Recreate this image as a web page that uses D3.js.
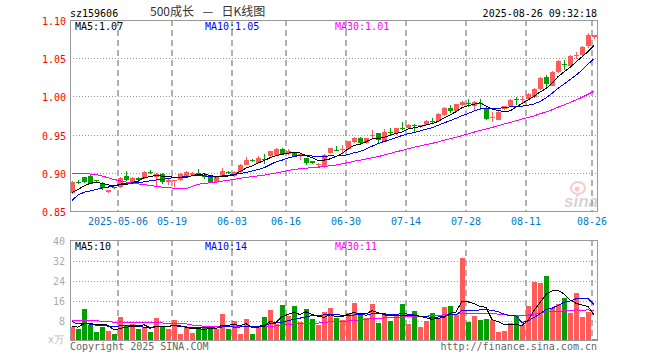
<!DOCTYPE html>
<html>
<head>
<meta charset="utf-8">
<script src="https://cdn.jsdelivr.net/npm/d3@7"></script>
<style>
body { margin: 0; background: #fff; }
text { font-family: "DejaVu Sans Mono", monospace; font-size: 10px; }
</style>
</head>
<body>
<div id="chart"></div>
<script>
var width = 660,
    height = 360;

// trading days shown
var dates = [
  "2025-04-21","2025-04-22","2025-04-23","2025-04-24","2025-04-25","2025-04-28","2025-04-29","2025-04-30",
  "2025-05-06","2025-05-07","2025-05-08","2025-05-09","2025-05-12","2025-05-13","2025-05-14","2025-05-15",
  "2025-05-16","2025-05-19","2025-05-20","2025-05-21","2025-05-22","2025-05-23","2025-05-26","2025-05-27",
  "2025-05-28","2025-05-29","2025-05-30",
  "2025-06-03","2025-06-04","2025-06-05","2025-06-06","2025-06-09","2025-06-10","2025-06-11","2025-06-12",
  "2025-06-13","2025-06-16","2025-06-17","2025-06-18","2025-06-19","2025-06-20","2025-06-23","2025-06-24",
  "2025-06-25","2025-06-26","2025-06-27","2025-06-30",
  "2025-07-01","2025-07-02","2025-07-03","2025-07-04","2025-07-07","2025-07-08","2025-07-09","2025-07-10",
  "2025-07-11","2025-07-14","2025-07-15","2025-07-16","2025-07-17","2025-07-18","2025-07-21","2025-07-22",
  "2025-07-23","2025-07-24","2025-07-25","2025-07-28","2025-07-29","2025-07-30","2025-07-31",
  "2025-08-01","2025-08-04","2025-08-05","2025-08-06","2025-08-07","2025-08-08","2025-08-11","2025-08-12",
  "2025-08-13","2025-08-14","2025-08-15","2025-08-18","2025-08-19","2025-08-20","2025-08-21","2025-08-22",
  "2025-08-25","2025-08-26"
];

var opens = [
  0.873,0.888,0.894,0.896,0.890,0.887,0.875,0.881,0.881,0.896,
  0.888,0.893,0.893,0.901,0.895,0.899,0.888,0.889,0.891,0.895,
  0.897,0.900,0.897,0.894,0.888,0.896,0.901,0.896,0.901,0.911,
  0.917,0.913,0.918,0.922,0.923,0.931,0.924,0.926,0.921,0.919,
  0.915,0.910,0.908,0.925,0.930,0.930,0.931,0.941,0.946,0.939,
  0.949,0.952,0.941,0.954,0.951,0.959,0.959,0.963,0.959,0.963,
  0.968,0.968,0.976,0.985,0.981,0.989,0.992,0.988,0.992,0.985,
  0.972,0.970,0.983,0.987,0.996,0.996,0.997,0.999,1.009,1.026,
  1.014,1.031,1.042,1.040,1.053,1.054,1.065,1.078
];
var highs = [
  0.889,0.890,0.895,0.897,0.891,0.888,0.878,0.882,0.894,0.903,
  0.894,0.894,0.902,0.904,0.900,0.900,0.892,0.891,0.900,0.902,
  0.901,0.905,0.899,0.895,0.894,0.906,0.902,0.902,0.911,0.921,
  0.918,0.922,0.925,0.928,0.933,0.933,0.931,0.927,0.925,0.920,
  0.916,0.913,0.924,0.933,0.935,0.936,0.942,0.947,0.947,0.946,
  0.956,0.952,0.957,0.958,0.959,0.966,0.964,0.964,0.963,0.969,
  0.972,0.978,0.986,0.989,0.990,0.994,0.997,0.994,0.996,0.986,
  0.979,0.981,0.988,0.996,0.999,1.000,1.004,1.011,1.025,1.028,
  1.033,1.047,1.048,1.054,1.058,1.066,1.083,1.081
];
var lows = [
  0.872,0.885,0.887,0.885,0.887,0.878,0.874,0.879,0.880,0.889,
  0.887,0.888,0.892,0.899,0.882,0.885,0.884,0.882,0.889,0.894,
  0.896,0.898,0.892,0.887,0.887,0.895,0.899,0.895,0.900,0.910,
  0.914,0.913,0.912,0.921,0.923,0.923,0.923,0.921,0.917,0.910,
  0.911,0.906,0.906,0.925,0.928,0.925,0.930,0.939,0.939,0.938,
  0.945,0.939,0.940,0.950,0.950,0.956,0.958,0.953,0.958,0.962,
  0.965,0.967,0.975,0.978,0.981,0.988,0.986,0.981,0.982,0.969,
  0.967,0.969,0.982,0.987,0.989,0.991,0.996,0.998,1.008,1.012,
  1.013,1.031,1.035,1.039,1.049,1.053,1.064,1.075
];
var closes = [
  0.888,0.887,0.888,0.886,0.889,0.881,0.878,0.880,0.893,0.891,
  0.893,0.890,0.901,0.900,0.899,0.888,0.891,0.890,0.899,0.901,
  0.900,0.899,0.894,0.888,0.894,0.903,0.900,0.901,0.910,0.917,
  0.916,0.920,0.917,0.928,0.931,0.925,0.928,0.922,0.924,0.913,
  0.912,0.911,0.923,0.932,0.929,0.931,0.941,0.946,0.940,0.945,
  0.950,0.943,0.954,0.953,0.958,0.958,0.963,0.962,0.962,0.968,
  0.967,0.977,0.985,0.981,0.990,0.993,0.991,0.993,0.991,0.970,
  0.973,0.980,0.987,0.995,0.995,0.997,1.003,1.010,1.024,1.017,
  1.032,1.046,1.041,1.053,1.054,1.065,1.080,1.080
];
// volume, 万
var volumes = [
  5.4,4.5,12.5,6.1,3.3,5.3,3.7,2.5,9.3,5.7,
  6.5,4.5,5.4,3.3,8.9,5.7,4.5,8.1,2.5,5.4,
  2.9,5.3,5.3,5.3,4.5,10.5,4.5,7.7,2.5,8.5,
  2.5,5.4,9.3,12.1,6.8,14.1,9.7,13.7,7.5,12.5,
  8.5,6.1,11.5,12.9,9.1,8.1,10.9,14.9,10.3,8.9,
  14.5,7.1,10.5,7.9,10.1,14.5,6.5,11.7,5.3,7.7,
  10.9,8.9,13.3,13.7,10.1,32.9,7.3,9.7,8.1,8.5,
  8.1,3.5,3.9,6.9,9.7,6.1,13.7,23.5,23.1,25.9,
  12.9,14.5,16.9,11.2,19.0,9.3,11.5,0.5
];

// the 29 sessions before the window, only needed for the moving averages
var priorCloses = [
  0.889,0.895,0.912,0.915,0.935,0.945,0.950,0.942,0.944,0.925,
  0.930,0.928,0.932,0.935,0.920,0.908,0.915,0.918,0.912,0.800,
  0.817,0.853,0.869,0.870,0.859,0.8675,0.866,0.868,0.882
];
var priorVolumes = [
  8.5,9.2,7.4,8.0,10.5,9.0,8.2,7.1,6.8,8.8,
  7.5,6.9,7.2,6.5,8.1,7.6,6.9,7.4,8.4,18.0,
  13.5,10.2,8.6,7.8,6.4,6.2,5.6,5.3,6.0
];

var tickDates = ["2025-05-06","2025-05-19","2025-06-03","2025-06-16","2025-06-30",
                 "2025-07-14","2025-07-28","2025-08-11","2025-08-26"];
var tickLabels = ["2025-05-06","05-19","06-03","06-16","06-30","07-14","07-28","08-11","08-26"];
var priceTicks = [0.85, 0.90, 0.95, 1.00, 1.05, 1.10];
var volTicks = [8, 16, 24, 32, 40];

var upColor = "#ff5b5b",
    downColor = "#00a000";
var maColors = {5: "#000000", 10: "#0000ff", 30: "#ff00ff"};

var svg = d3.select("#chart").append("svg")
    .attr("width", width)
    .attr("height", height);

var x = d3.scaleBand().domain(dates).range([69, 597]);
var y = d3.scaleLinear().domain([0.85, 1.10]).range([211, 20]);
var yVol = d3.scaleLinear().domain([0, 40]).range([340.5, 240.5]);

var cx = function(d) { return x(d) + 3; };

// moving averages over prior + visible data
function movingAvg(all, n, offset) {
  return d3.range(offset, all.length).map(function(i) {
    return d3.mean(all.slice(i - n + 1, i + 1));
  });
}
var allCloses = priorCloses.concat(closes),
    allVols = priorVolumes.concat(volumes);
var priceMA = {}, volMA = {};
[5, 10, 30].forEach(function(n) {
  priceMA[n] = movingAvg(allCloses, n, priorCloses.length);
  volMA[n] = movingAvg(allVols, n, priorVolumes.length);
});

// ---- grids ----
var grid = svg.append("g");
[[20, 211], [240, 341]].forEach(function(r) {
  grid.selectAll(null).data(tickDates).enter().append("line")
    .attr("x1", function(d) { return x(d) + 1; })
    .attr("x2", function(d) { return x(d) + 1; })
    .attr("y1", r[0]).attr("y2", r[1])
    .attr("stroke", "#b0b0b0")
    .attr("stroke-width", 2)
    .attr("stroke-dasharray", "6,4");
});
grid.selectAll(null).data([0.90, 0.95, 1.00, 1.05]).enter().append("line")
  .attr("x1", 70).attr("x2", 597)
  .attr("y1", function(d) { return Math.round(y(d)) + 0.5; })
  .attr("y2", function(d) { return Math.round(y(d)) + 0.5; })
  .attr("stroke", "#999").attr("stroke-dasharray", "1,2");
grid.selectAll(null).data([8, 16, 24, 32]).enter().append("line")
  .attr("x1", 70).attr("x2", 597)
  .attr("y1", function(d) { return Math.round(yVol(d)) + 0.5; })
  .attr("y2", function(d) { return Math.round(yVol(d)) + 0.5; })
  .attr("stroke", "#999").attr("stroke-dasharray", "1,2");

// ---- candles ----
var idx = d3.range(dates.length);
var isUp = function(i) { return closes[i] >= opens[i]; };
var candles = svg.append("g").attr("shape-rendering", "crispEdges");
candles.selectAll("line").data(idx).enter().append("line")
  .attr("x1", function(i) { return x(dates[i]) + 3.5; })
  .attr("x2", function(i) { return x(dates[i]) + 3.5; })
  .attr("y1", function(i) { return y(highs[i]); })
  .attr("y2", function(i) { return y(lows[i]); })
  .attr("stroke", function(i) { return isUp(i) ? upColor : downColor; });
candles.selectAll("rect").data(idx).enter().append("rect")
  .attr("x", function(i) { return x(dates[i]) + 1; })
  .attr("width", 5)
  .attr("y", function(i) { return Math.round(y(Math.max(opens[i], closes[i]))); })
  .attr("height", function(i) { return Math.max(1, Math.round(Math.abs(y(opens[i]) - y(closes[i])))); })
  .attr("fill", function(i) { return isUp(i) ? upColor : downColor; });

// ---- volume bars ----
svg.append("g").attr("shape-rendering", "crispEdges")
  .selectAll("rect").data(idx).enter().append("rect")
  .attr("x", function(i) { return x(dates[i]) + 1; })
  .attr("width", 5)
  .attr("y", function(i) { return yVol(volumes[i]); })
  .attr("height", function(i) { return yVol(0) - yVol(volumes[i]); })
  .attr("fill", function(i) { return isUp(i) ? upColor : downColor; });

// ---- MA lines ----
svg.append("clipPath").attr("id", "volclip")
  .append("rect").attr("x", 70).attr("y", 241).attr("width", 527).attr("height", 100);
[30, 10, 5].forEach(function(n) {
  var priceLine = d3.line()
    .x(function(v, i) { return cx(dates[i]); })
    .y(function(v) { return y(v); });
  svg.append("path")
    .attr("d", priceLine(priceMA[n]))
    .attr("fill", "none")
    .attr("stroke", maColors[n])
    .attr("stroke-width", 1)
    .attr("shape-rendering", "crispEdges");
  var volLine = d3.line()
    .x(function(v, i) { return cx(dates[i]); })
    .y(function(v) { return yVol(v); });
  svg.append("path")
    .attr("d", volLine(volMA[n]))
    .attr("clip-path", "url(#volclip)")
    .attr("fill", "none")
    .attr("stroke", maColors[n])
    .attr("stroke-width", 1)
    .attr("shape-rendering", "crispEdges");
});

// ---- frames ----
svg.append("rect").attr("x", 70.5).attr("y", 20.5).attr("width", 527).attr("height", 191)
  .attr("fill", "none").attr("stroke", "#999");
svg.append("rect").attr("x", 70.5).attr("y", 240.5).attr("width", 527).attr("height", 100)
  .attr("fill", "none").attr("stroke", "#999");

// ---- axes ----
var yAxis = svg.append("g").attr("transform", "translate(70,0)")
  .call(d3.axisLeft(y).tickValues(priceTicks).tickFormat(d3.format(".2f")).tickSize(0).tickPadding(4));
yAxis.select(".domain").remove();
yAxis.selectAll("text").attr("fill", "#f00").attr("dy", "0.45em")
  .style("font-family", "DejaVu Sans Mono").style("font-size", "10px");

var vAxis = svg.append("g").attr("transform", "translate(70,0)")
  .call(d3.axisLeft(yVol).tickValues(volTicks).tickSize(0).tickPadding(5));
vAxis.select(".domain").remove();
vAxis.selectAll("text").attr("fill", "#aaa").attr("dy", "0.4em")
  .style("font-family", "DejaVu Sans Mono").style("font-size", "10px");

var xAxis = svg.append("g").attr("transform", "translate(-2,211)")
  .call(d3.axisBottom(x).tickValues(tickDates)
    .tickFormat(function(d, i) { return tickLabels[i]; })
    .tickSize(0).tickPadding(7));
xAxis.select(".domain").remove();
xAxis.selectAll("text").attr("fill", "#007acc")
  .style("font-family", "DejaVu Sans Mono").style("font-size", "10px");

// ---- texts ----
svg.append("text").attr("x", 70).attr("y", 17).text("sz159606");
svg.append("text").attr("x", 150).attr("y", 16)
  .style("font-family", "Noto Sans CJK SC").style("font-size", "12px")
  .style("white-space", "pre").attr("fill", "#333")
  .text("500成长\u2002\u2009—\u2002\u2009日K线图");
svg.append("text").attr("x", 597).attr("y", 17).attr("text-anchor", "end")
  .text("2025-08-26 09:32:18");

var fmt2 = d3.format(".2f");
var last = dates.length - 1;
[5, 10, 30].forEach(function(n, k) {
  svg.append("text").attr("x", 75 + k * 130).attr("y", 29.5).attr("fill", maColors[n])
    .text("MA" + n + ":" + fmt2(priceMA[n][last]));
  svg.append("text").attr("x", 75 + k * 130).attr("y", 249.5).attr("fill", maColors[n])
    .text("MA" + n + ":" + Math.floor(volMA[n][last]));
});

svg.append("text").attr("x", 64).attr("y", 343).attr("text-anchor", "end")
  .attr("fill", "#bbb").text("x万");
svg.append("text").attr("x", 70).attr("y", 350).attr("fill", "#666")
  .text("Copyright 2025 SINA.COM");
svg.append("text").attr("x", 597).attr("y", 350).attr("text-anchor", "end").attr("fill", "#666")
  .text("http://finance.sina.com.cn");

// faint sina watermark
var logo = svg.append("g").attr("opacity", 0.4);
logo.append("ellipse").attr("cx", 578).attr("cy", 188).attr("rx", 7).attr("ry", 6)
  .attr("fill", "none").attr("stroke", "#f08080").attr("stroke-width", 2);
logo.append("circle").attr("cx", 577).attr("cy", 189).attr("r", 2.5).attr("fill", "#f08080");
logo.append("text").attr("x", 564).attr("y", 207)
  .style("font-family", "Liberation Sans").style("font-size", "17px")
  .style("font-style", "italic").style("font-weight", "bold")
  .attr("fill", "#999").text("sina");
</script>
</body>
</html>
